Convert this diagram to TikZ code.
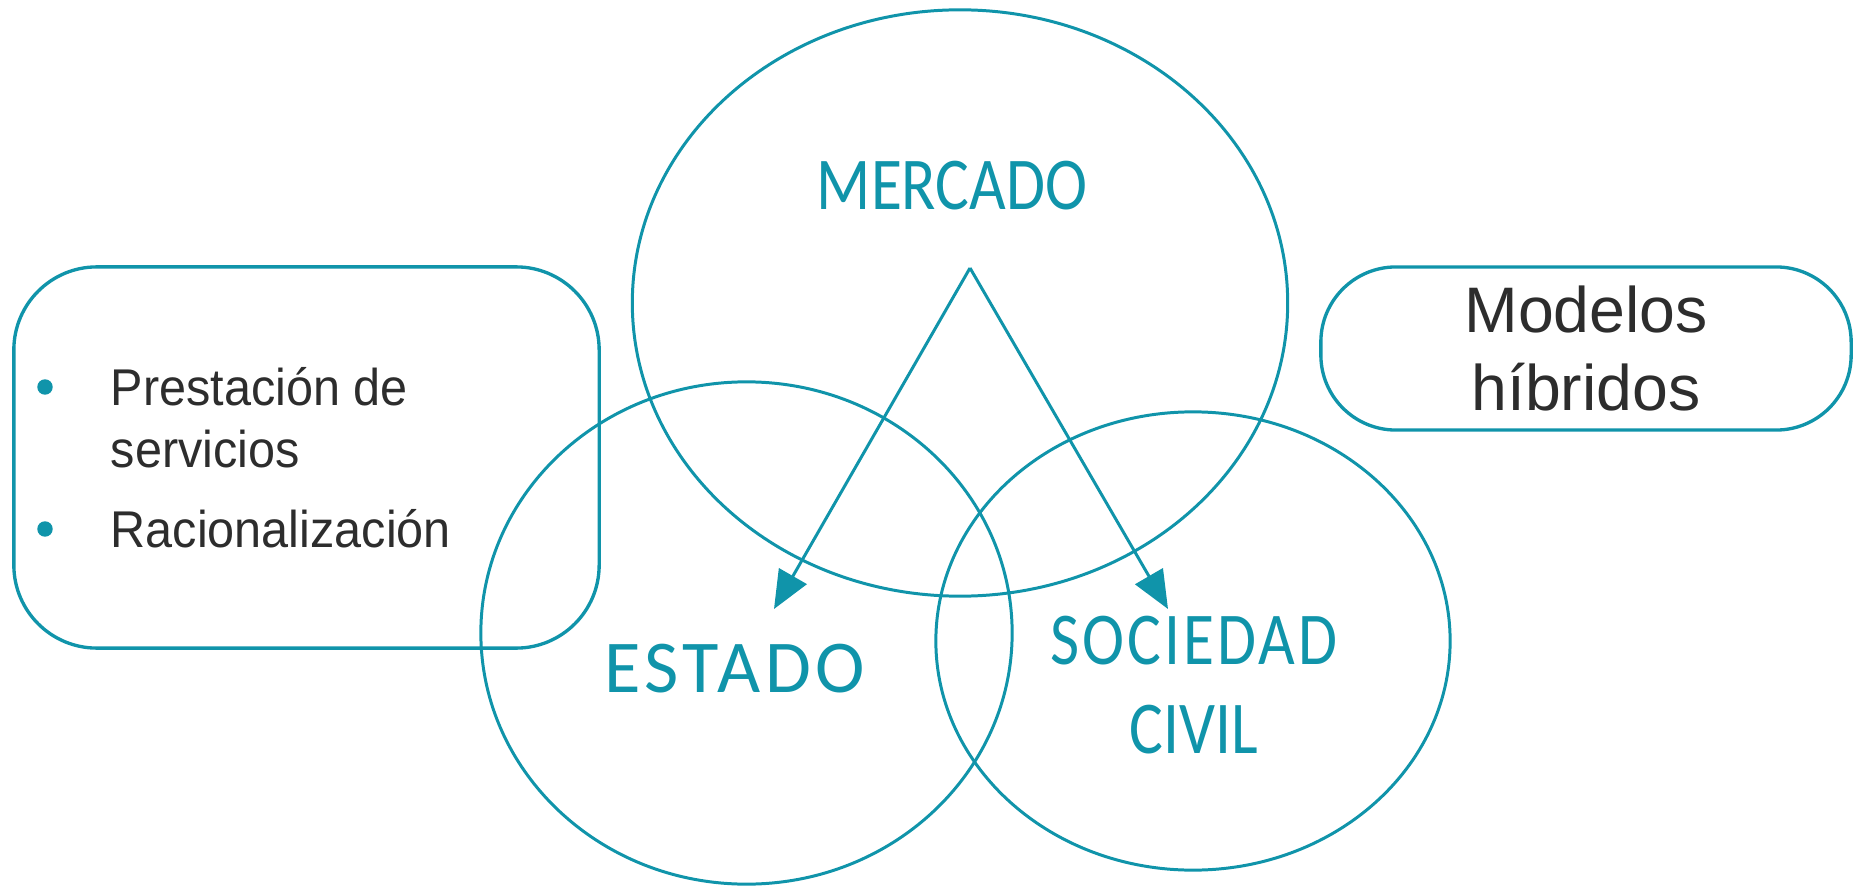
\documentclass[tikz,border=0pt]{standalone}
\usepackage{fontspec}
\setmainfont{Liberation Sans}
\newfontfamily\sectorfont[FakeStretch=0.85]{Carlito}
\newfontfamily\itemfont[FakeStretch=0.94]{Liberation Sans}
\usepackage{xcolor}
\usepackage{tikz}
\usetikzlibrary{positioning,shapes.geometric,arrows.meta}
\definecolor{petrol}{RGB}{16,148,170}
\definecolor{inktext}{RGB}{45,45,45}
\tikzset{%
  every sector/.style={
    ellipse,
    draw=petrol,
    line width=0.85pt,
    inner sep=0pt
  },
  sector label/.style={
    text=petrol,
    align=center,
    font=\sectorfont\fontsize{21.2}{25.3}\selectfont
  },
  info box/.style={
    draw=petrol,
    line width=0.95pt,
    inner sep=0pt
  },
  bullet/.style={
    circle,
    fill=petrol,
    inner sep=0pt,
    minimum size=4.4pt
  },
  item text/.style={
    text=inktext,
    align=left,
    inner sep=0pt,
    font=\itemfont\fontsize{14.7}{17.6}\selectfont
  },
}

\begin{document}
\begin{tikzpicture}[x=0.01cm, y=-0.01cm, >={Triangle[length=10.8pt, width=9pt]}]

    \useasboundingbox (0,0) rectangle (1854,888);

    % the three sectors
    \node [every sector, minimum width=6.55cm, minimum height=5.86cm] (mercado) at (960,303) {};
    \node [every sector, minimum width=5.31cm, minimum height=5.02cm] (estado) at (746.5,633) {};
    \node [every sector, minimum width=5.14cm, minimum height=4.58cm] (sociedad) at (1193,641) {};

    \node [sector label] (mercado-label) at (952,186) {MERCADO};
    \node [sector label] (estado-label) at (735,669) {\addfontfeature{FakeStretch=1,LetterSpace=6}ESTADO};
    \node [sector label] (sociedad-label) at (1194,685.5) {\addfontfeature{LetterSpace=4}SOCIEDAD\\CIVIL};

    % boxes
    \node [info box, rounded corners=0.83cm, minimum width=5.85cm, minimum height=3.81cm] (servicios-box) at (306.5,457.5) {};
    \node [info box, rounded corners=0.75cm, minimum width=5.30cm, minimum height=1.63cm,
        text=inktext, align=center, font=\fontsize{18.3}{21.9}\selectfont] (hibridos-box) at (1586,348.5) {Modelos\\híbridos};

    \foreach \b/\y/\t [count=\i] in {387/418/{Prestación de\\servicios}, 529/529/Racionalización}
    {
        \node [bullet] (bullet-\i) at (45,\b) {};
        \node [item text, anchor=west] (item-\i) at (110,\y) {\t};
    }

    % arrows out of the market
    \coordinate (apex) at (970,268);
    \coordinate (estado-tip) at (774,609);
    \coordinate (sociedad-tip) at (1168,609);

    \draw [->, petrol, line width=0.85pt] (apex) -- (estado-tip);
    \draw [->, petrol, line width=0.85pt] (apex) -- (sociedad-tip);

\end{tikzpicture}
\end{document}
